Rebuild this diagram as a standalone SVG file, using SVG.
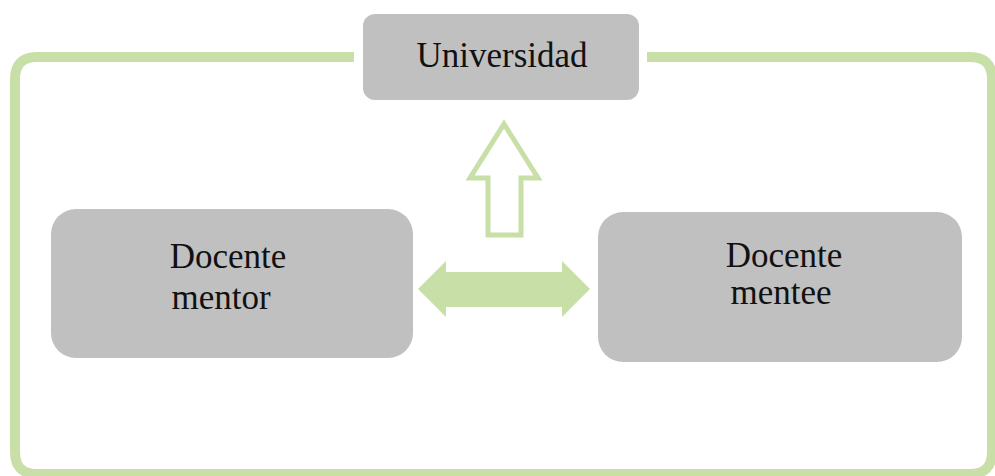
<svg xmlns="http://www.w3.org/2000/svg" width="995" height="476" viewBox="0 0 995 476">
<style>
.box{fill:#c0c0c0;}
.lbl{font-family:"Liberation Serif","Times New Roman",serif;font-size:35px;fill:#111;text-anchor:middle;}
.frame{fill:none;stroke:#c8dfa8;stroke-width:10;}
</style>
<rect width="995" height="476" fill="#ffffff"/>
<g id="frame">
<path class="frame" d="M354,57 H37 Q15,57 15,79 V452 Q15,474 37,474 H970 Q992,474 992,452 V79 Q992,57 970,57 H647"/>
</g>
<g id="connectors">
<path d="M504,124 L538,178 L521,178 L521,235 L488,235 L488,178 L470,178 Z" fill="none" stroke="#c8dfa8" stroke-width="5" stroke-linejoin="miter"/>
<path d="M418,289 L446,261 L446,272 L562,272 L562,261 L590,289 L562,317 L562,307 L446,307 L446,317 Z" fill="#c8dfa8"/>
</g>
<g id="universidad">
<rect class="box" x="363" y="14" width="276" height="86" rx="12"/>
<text class="lbl" x="502" y="67">Universidad</text>
</g>
<g id="mentor">
<rect class="box" x="51" y="209" width="362" height="149" rx="25"/>
<text class="lbl" x="228" y="268">Docente</text>
<text class="lbl" x="221" y="309">mentor</text>
</g>
<g id="mentee">
<rect class="box" x="598" y="212" width="364" height="150" rx="25"/>
<text class="lbl" x="784" y="267">Docente</text>
<text class="lbl" x="781" y="304">mentee</text>
</g>
</svg>
